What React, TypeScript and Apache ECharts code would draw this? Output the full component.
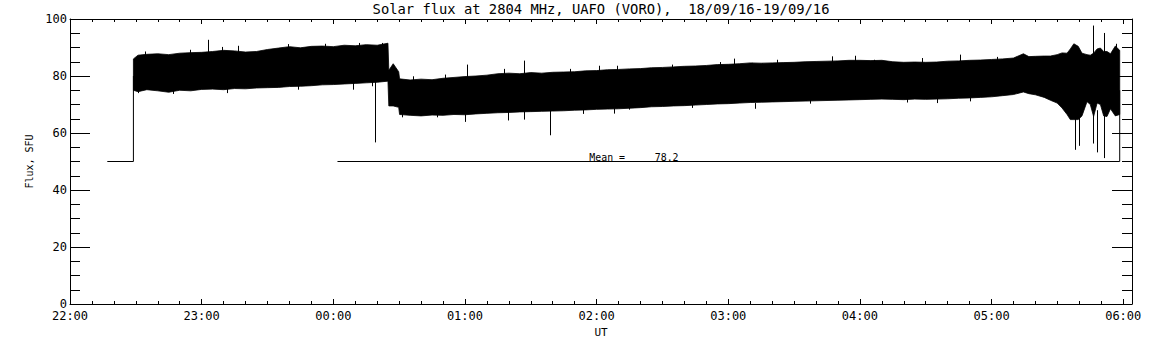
import React, { useEffect, useRef } from "react";
import * as echarts from "echarts";

// ---------- texts ----------
const TITLE = "Solar flux at 2804 MHz, UAFO (VORO),  18/09/16-19/09/16";
const Y_NAME = "Flux, SFU";
const X_NAME = "UT";
const MEAN_VALUE = 78.2;

// ---------- axes (x in minutes after 22:00 UT) ----------
const START_HOUR = 22;
const X_MIN = 0;
const X_MAX = 484;
const X_MAJOR = 60;
const X_MINOR = 10;
const Y_MIN = 0;
const Y_MAX = 100;
const Y_MAJOR = 20;

// ---------- data ----------
// envelope of the (very dense) 1-s flux record: upper and lower edge
const bandTime = [28.9, 31, 35, 40, 45, 50, 55, 60, 65, 70, 75, 80, 85, 90, 95, 100, 105, 110, 115, 120, 125, 130, 135, 140, 144.9, 145.3, 147.3, 149.8, 150.2, 155, 160, 165, 170, 175, 180, 185, 190, 195, 200, 205, 210, 215, 220, 225, 230, 235, 240, 245, 250, 255, 260, 265, 270, 275, 280, 285, 290, 295, 300, 305, 310, 315, 320, 325, 330, 335, 340, 345, 350, 355, 360, 365, 370, 375, 380, 385, 390, 395, 400, 405, 410, 415, 420, 425, 430, 434.5, 437, 440, 444, 446.8, 449.9, 452.1, 454.4, 455.9, 457.5, 459.5, 461.2, 463.5, 465.0, 466.5, 468.1, 469.6, 471.1, 472.6, 474.2, 476.4, 478.4];
const bandHigh = [86.0, 87.3, 87.6, 87.8, 87.5, 88.0, 88.2, 88.3, 88.6, 89.0, 88.8, 88.4, 88.6, 89.3, 89.8, 90.3, 89.9, 90.4, 90.5, 90.3, 90.8, 90.6, 91.0, 90.8, 91.5, 82.0, 84.3, 81.5, 79.0, 78.6, 78.9, 78.7, 79.2, 79.5, 79.8, 80.0, 80.3, 80.8, 81.0, 80.8, 81.2, 81.0, 81.3, 81.4, 81.5, 81.8, 81.9, 82.2, 82.3, 82.5, 82.6, 82.9, 83.0, 83.2, 83.4, 83.5, 83.7, 84.0, 84.1, 84.3, 84.6, 84.5, 84.6, 84.7, 84.8, 85.0, 85.1, 85.2, 85.3, 85.5, 85.5, 85.4, 85.5, 85.0, 84.8, 84.9, 84.8, 84.9, 85.2, 85.3, 85.5, 85.6, 85.8, 86.0, 86.3, 87.8, 86.8, 86.9, 87.0, 87.0, 87.5, 88.1, 88.0, 89.5, 91.3, 90.4, 88.0, 87.5, 87.3, 88.0, 89.5, 89.8, 88.6, 88.6, 87.8, 90.5, 89.0];
const bandLow = [75.0, 74.5, 75.2, 74.8, 74.3, 75.0, 74.8, 75.3, 75.4, 75.2, 75.6, 75.5, 75.8, 75.9, 76.0, 76.3, 76.4, 76.6, 76.9, 77.0, 77.2, 77.4, 77.6, 77.8, 78.2, 69.5, 69.5, 69.0, 66.5, 66.2, 66.0, 66.3, 66.2, 66.5, 66.4, 66.7, 66.9, 67.1, 67.2, 67.4, 67.5, 67.6, 67.7, 67.8, 68.0, 68.1, 68.3, 68.4, 68.5, 68.7, 68.9, 69.2, 69.3, 69.5, 69.6, 69.8, 70.0, 70.2, 70.3, 70.5, 70.7, 70.8, 70.9, 71.0, 71.1, 71.2, 71.3, 71.4, 71.5, 71.6, 71.7, 71.8, 71.9, 71.8, 71.7, 71.9, 71.8, 71.9, 72.0, 72.2, 72.3, 72.5, 72.7, 73.1, 73.5, 74.4, 73.8, 73.4, 72.5, 71.5, 70.5, 68.8, 66.5, 64.7, 64.7, 64.7, 66.0, 71.0, 70.0, 65.8, 70.5, 70.0, 66.0, 65.8, 68.5, 66.0, 66.5];

// isolated spikes and needles sticking out of the band (time, low end, high end)
const spikeTime = [62.9, 139.1, 179.8, 181.1, 199.8, 207.1, 218.8, 302.4, 312.3, 347.3, 357.6, 457.9, 459.7, 466.1, 468.1, 471.3, 476.7,
  34.2, 54.7, 69.2, 76.7, 99.5, 116.3, 131.5, 142.1, 156.5, 171.0, 197.6, 228.0, 240.9, 249.3, 274.3, 296.4, 310.8, 322.2, 366.3, 388.3, 405.8, 422.5,
  31.1, 47.1, 71.4, 104.1, 129.2, 137.6, 151.2, 167.2, 234.0, 247.7, 254.6, 283.5, 337.4, 381.5, 395.2, 410.3];
const spikeLow = [88.0, 56.7, 63.9, 79.0, 64.4, 64.7, 59.2, 83.5, 68.5, 84.0, 85.0, 54.1, 55.5, 56.3, 53.2, 51.2, 88.0,
  86.0, 86.5, 87.5, 88.0, 88.5, 88.8, 89.0, 89.0, 77.5, 78.0, 80.0, 80.0, 81.0, 81.0, 82.0, 82.5, 82.5, 83.5, 84.0, 84.0, 84.5, 84.5,
  74.0, 73.7, 74.0, 75.2, 75.2, 76.4, 65.5, 65.5, 66.7, 66.8, 68.2, 68.8, 70.3, 70.7, 70.5, 71.1];
const spikeHigh = [92.7, 78.0, 67.0, 84.0, 67.5, 85.4, 68.0, 86.1, 70.5, 86.9, 87.1, 66.0, 66.0, 97.7, 68.0, 95.1, 91.3,
  88.6, 89.2, 90.2, 90.6, 91.2, 91.3, 91.6, 91.6, 79.9, 80.5, 82.5, 82.5, 83.6, 83.6, 84.0, 84.9, 84.6, 85.7, 85.7, 86.3, 87.5, 86.7,
  76.0, 76.0, 76.5, 77.5, 78.0, 78.5, 68.0, 68.0, 69.0, 69.0, 70.5, 71.0, 72.5, 73.0, 73.0, 73.5];

// samples at the 50 SFU fill level (data gaps)
const gapStart = [[17.0, 50], [28.9, 50], [28.9, 80]];
const gapEnd = [[478.4, 75], [478.4, 50], [121.9, 50]];

// position of the mean annotation (minutes, SFU)
const meanLabelPos = [236.7, 50];

const MONO = "'DejaVu Sans Mono', monospace";
const BLACK = "#000";

const pad = (n: number) => (n < 10 ? "0" + n : "" + n);
const fmtTime = (v: number) => {
  const total = START_HOUR * 60 + Math.round(v);
  const h = Math.floor(total / 60) % 24;
  const m = total % 60;
  return pad(h) + ":" + pad(m);
};

function xAxisDef(position: "top" | "bottom", interval: number, tickLen: number, labels: boolean, line: boolean) {
  return {
    type: "value",
    position,
    min: X_MIN,
    max: X_MAX,
    interval,
    name: labels ? X_NAME : "",
    nameLocation: "middle",
    nameGap: 18,
    nameTextStyle: { color: BLACK, fontFamily: MONO, fontSize: 11 },
    axisLine: { show: line, onZero: false, lineStyle: { color: BLACK, width: 1 } },
    axisTick: { show: true, inside: true, length: tickLen, lineStyle: { color: BLACK, width: 1 } },
    axisLabel: {
      show: labels,
      formatter: fmtTime,
      color: BLACK,
      fontFamily: MONO,
      fontSize: 12,
      margin: 6,
      showMaxLabel: false,
      showMinLabel: true,
    },
    splitLine: { show: false },
  };
}

function yAxisDef(position: "left" | "right", labels: boolean) {
  return {
    type: "value",
    position,
    min: Y_MIN,
    max: Y_MAX,
    interval: Y_MAJOR,
    name: labels ? Y_NAME : "",
    nameLocation: "middle",
    nameGap: 34,
    nameRotate: 90,
    nameTextStyle: { color: BLACK, fontFamily: MONO, fontSize: 10 },
    axisLine: { show: true, onZero: false, lineStyle: { color: BLACK, width: 1 } },
    axisTick: { show: true, inside: true, length: 20, lineStyle: { color: BLACK, width: 1 } },
    minorTick: { show: true, splitNumber: 4, length: 10, lineStyle: { color: BLACK, width: 1 } },
    axisLabel: { show: labels, color: BLACK, fontFamily: MONO, fontSize: 12, margin: 3 },
    splitLine: { show: false },
    minorSplitLine: { show: false },
  };
}

export default function App() {
  const ref = useRef<HTMLDivElement>(null);

  useEffect(() => {
    document.body.style.margin = "0";
    const chart = echarts.init(ref.current as HTMLDivElement, null, { renderer: "svg" });

    const bandData = bandTime.map((t, i) => [t, bandHigh[i], bandLow[i]]);
    const spikeData = spikeTime.map((t, i) => [t, spikeLow[i], spikeHigh[i]]);

    const option: any = {
      animation: false,
      backgroundColor: "#fff",
      grid: { left: 70, right: 20, top: 19, bottom: 41, containLabel: false },
      graphic: [
        {
          type: "text",
          x: 601,
          y: 9,
          style: {
            text: TITLE,
            fill: BLACK,
            font: `13.8px ${MONO}`,
            align: "center",
            verticalAlign: "middle",
          },
        },
      ],
      xAxis: [
        xAxisDef("bottom", X_MAJOR, 5, true, true),
        xAxisDef("bottom", X_MINOR, 3, false, false),
        xAxisDef("top", X_MAJOR, 5, false, true),
        xAxisDef("top", X_MINOR, 3, false, false),
      ],
      yAxis: [yAxisDef("left", true), yAxisDef("right", false)],
      series: [
        {
          type: "custom",
          name: "flux band",
          xAxisIndex: 0,
          yAxisIndex: 0,
          silent: true,
          clip: true,
          data: bandData,
          renderItem: (params: any, api: any) => {
            if (params.dataIndex !== 0) return null;
            const upper = bandData.map((d) => api.coord([d[0], d[1]]));
            const lower = bandData.map((d) => api.coord([d[0], d[2]])).reverse();
            return {
              type: "polygon",
              shape: { points: upper.concat(lower) },
              style: { fill: BLACK, stroke: BLACK, lineWidth: 0.8 },
            };
          },
        },
        {
          type: "custom",
          name: "spikes",
          xAxisIndex: 0,
          yAxisIndex: 0,
          silent: true,
          clip: true,
          data: spikeData,
          renderItem: (params: any, api: any) => {
            const p0 = api.coord([api.value(0), api.value(1)]);
            const p1 = api.coord([api.value(0), api.value(2)]);
            const x = Math.round(p0[0]) + 0.5;
            return {
              type: "line",
              shape: { x1: x, y1: p0[1], x2: x, y2: p1[1] },
              style: { stroke: BLACK, lineWidth: 1 },
            };
          },
        },
        {
          type: "line",
          name: "gap start",
          xAxisIndex: 0,
          yAxisIndex: 0,
          data: gapStart,
          symbol: "none",
          silent: true,
          lineStyle: { color: BLACK, width: 1 },
        },
        {
          type: "line",
          name: "gap end",
          xAxisIndex: 0,
          yAxisIndex: 0,
          data: gapEnd,
          symbol: "none",
          silent: true,
          lineStyle: { color: BLACK, width: 1 },
        },
        {
          type: "custom",
          name: "mean",
          xAxisIndex: 0,
          yAxisIndex: 0,
          silent: true,
          data: [meanLabelPos],
          renderItem: (params: any, api: any) => {
            const p = api.coord([api.value(0), api.value(1)]);
            return {
              type: "text",
              x: p[0],
              y: p[1] + 1,
              style: {
                text: "Mean =     " + MEAN_VALUE.toFixed(1),
                fill: BLACK,
                font: `9.9px ${MONO}`,
                align: "left",
                verticalAlign: "bottom",
              },
            };
          },
        },
      ],
    };

    chart.setOption(option);
    return () => chart.dispose();
  }, []);

  return <div ref={ref} style={{ width: 1152, height: 345 }} />;
}
